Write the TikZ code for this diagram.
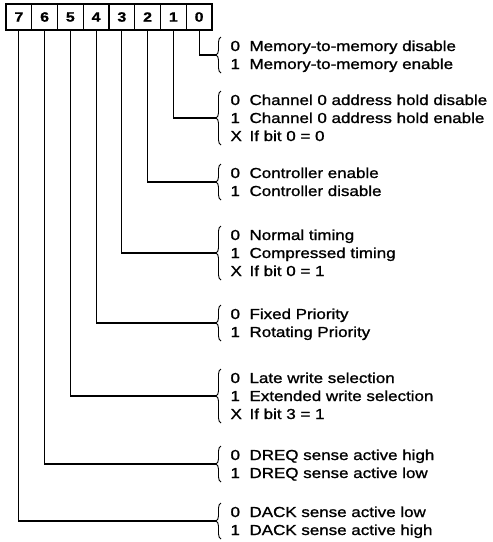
\documentclass[tikz,border=0pt]{standalone}
\usepackage{fontspec}
\setmainfont{Liberation Sans}[FakeStretch=1.17,FakeBold=1.2]
\usetikzlibrary{decorations.pathreplacing}
\begin{document}
\begin{tikzpicture}[x=1pt,y=-1pt,line width=1.1pt,
  cellbox/.style={draw,line width=1.4pt,minimum width=25.75pt,minimum height=26pt,inner sep=0pt,
    font=\fontsize{13.5}{13.5}\selectfont\bfseries},
  lbl/.style={anchor=base west,inner sep=0pt,font=\fontsize{14.5}{16}\selectfont},
  brc/.style={decorate,decoration={brace,amplitude=5pt},line width=0.9pt},
  conn/.style={line width=1.1pt}]
\useasboundingbox (0,0) rectangle (493,542);
% register cells
\node[cellbox] (b7) at (18.875,17) {7};
\node[cellbox] (b6) at (44.625,17) {6};
\node[cellbox] (b5) at (70.375,17) {5};
\node[cellbox] (b4) at (96.125,17) {4};
\node[cellbox] (b3) at (121.875,17) {3};
\node[cellbox] (b2) at (147.625,17) {2};
\node[cellbox] (b1) at (173.375,17) {1};
\node[cellbox] (b0) at (199.125,17) {0};
% brace tips
\coordinate (t0) at (216,55);
\coordinate (t1) at (216,118);
\coordinate (t2) at (216,182);
\coordinate (t3) at (216,253);
\coordinate (t4) at (216,323);
\coordinate (t5) at (216,396);
\coordinate (t6) at (216,464);
\coordinate (t7) at (216,521);
% connectors
\draw[conn] (b0.south) |- (t0);
\draw[conn] (b1.south) |- (t1);
\draw[conn] (b2.south) |- (t2);
\draw[conn] (b3.south) |- (t3);
\draw[conn] (b4.south) |- (t4);
\draw[conn] (b5.south) |- (t5);
\draw[conn] (b6.south) |- (t6);
\draw[conn] (b7.south) |- (t7);
% braces
\draw[brc] (221,73) -- (221,37);
\draw[brc] (221,145) -- (221,91);
\draw[brc] (221,200) -- (221,164);
\draw[brc] (221,280) -- (221,226);
\draw[brc] (221,341) -- (221,305);
\draw[brc] (221,423) -- (221,369);
\draw[brc] (221,482) -- (221,446);
\draw[brc] (221,539) -- (221,503);
% group 0
\node[lbl] (d00) at (230,51) {0}; \node[lbl] (l00) at (249,51) {Memory-to-memory disable};
\node[lbl] (d01) at (230,69) {1}; \node[lbl] (l01) at (249,69) {Memory-to-memory enable};
% group 1
\node[lbl] (d10) at (230,105) {0}; \node[lbl] (l10) at (249,105) {Channel 0 address hold disable};
\node[lbl] (d11) at (230,123) {1}; \node[lbl] (l11) at (249,123) {Channel 0 address hold enable};
\node[lbl] (d12) at (230,141) {X}; \node[lbl] (l12) at (249,141) {If bit 0 = 0};
% group 2
\node[lbl] (d20) at (230,178) {0}; \node[lbl] (l20) at (249,178) {Controller enable};
\node[lbl] (d21) at (230,196) {1}; \node[lbl] (l21) at (249,196) {Controller disable};
% group 3
\node[lbl] (d30) at (230,240) {0}; \node[lbl] (l30) at (249,240) {Normal timing};
\node[lbl] (d31) at (230,258) {1}; \node[lbl] (l31) at (249,258) {Compressed timing};
\node[lbl] (d32) at (230,276) {X}; \node[lbl] (l32) at (249,276) {If bit 0 = 1};
% group 4
\node[lbl] (d40) at (230,319) {0}; \node[lbl] (l40) at (249,319) {Fixed Priority};
\node[lbl] (d41) at (230,337) {1}; \node[lbl] (l41) at (249,337) {Rotating Priority};
% group 5
\node[lbl] (d50) at (230,383) {0}; \node[lbl] (l50) at (249,383) {Late write selection};
\node[lbl] (d51) at (230,401) {1}; \node[lbl] (l51) at (249,401) {Extended write selection};
\node[lbl] (d52) at (230,419) {X}; \node[lbl] (l52) at (249,419) {If bit 3 = 1};
% group 6
\node[lbl] (d60) at (230,460) {0}; \node[lbl] (l60) at (249,460) {DREQ sense active high};
\node[lbl] (d61) at (230,478) {1}; \node[lbl] (l61) at (249,478) {DREQ sense active low};
% group 7
\node[lbl] (d70) at (230,517) {0}; \node[lbl] (l70) at (249,517) {DACK sense active low};
\node[lbl] (d71) at (230,535) {1}; \node[lbl] (l71) at (249,535) {DACK sense active high};
\end{tikzpicture}
\end{document}
